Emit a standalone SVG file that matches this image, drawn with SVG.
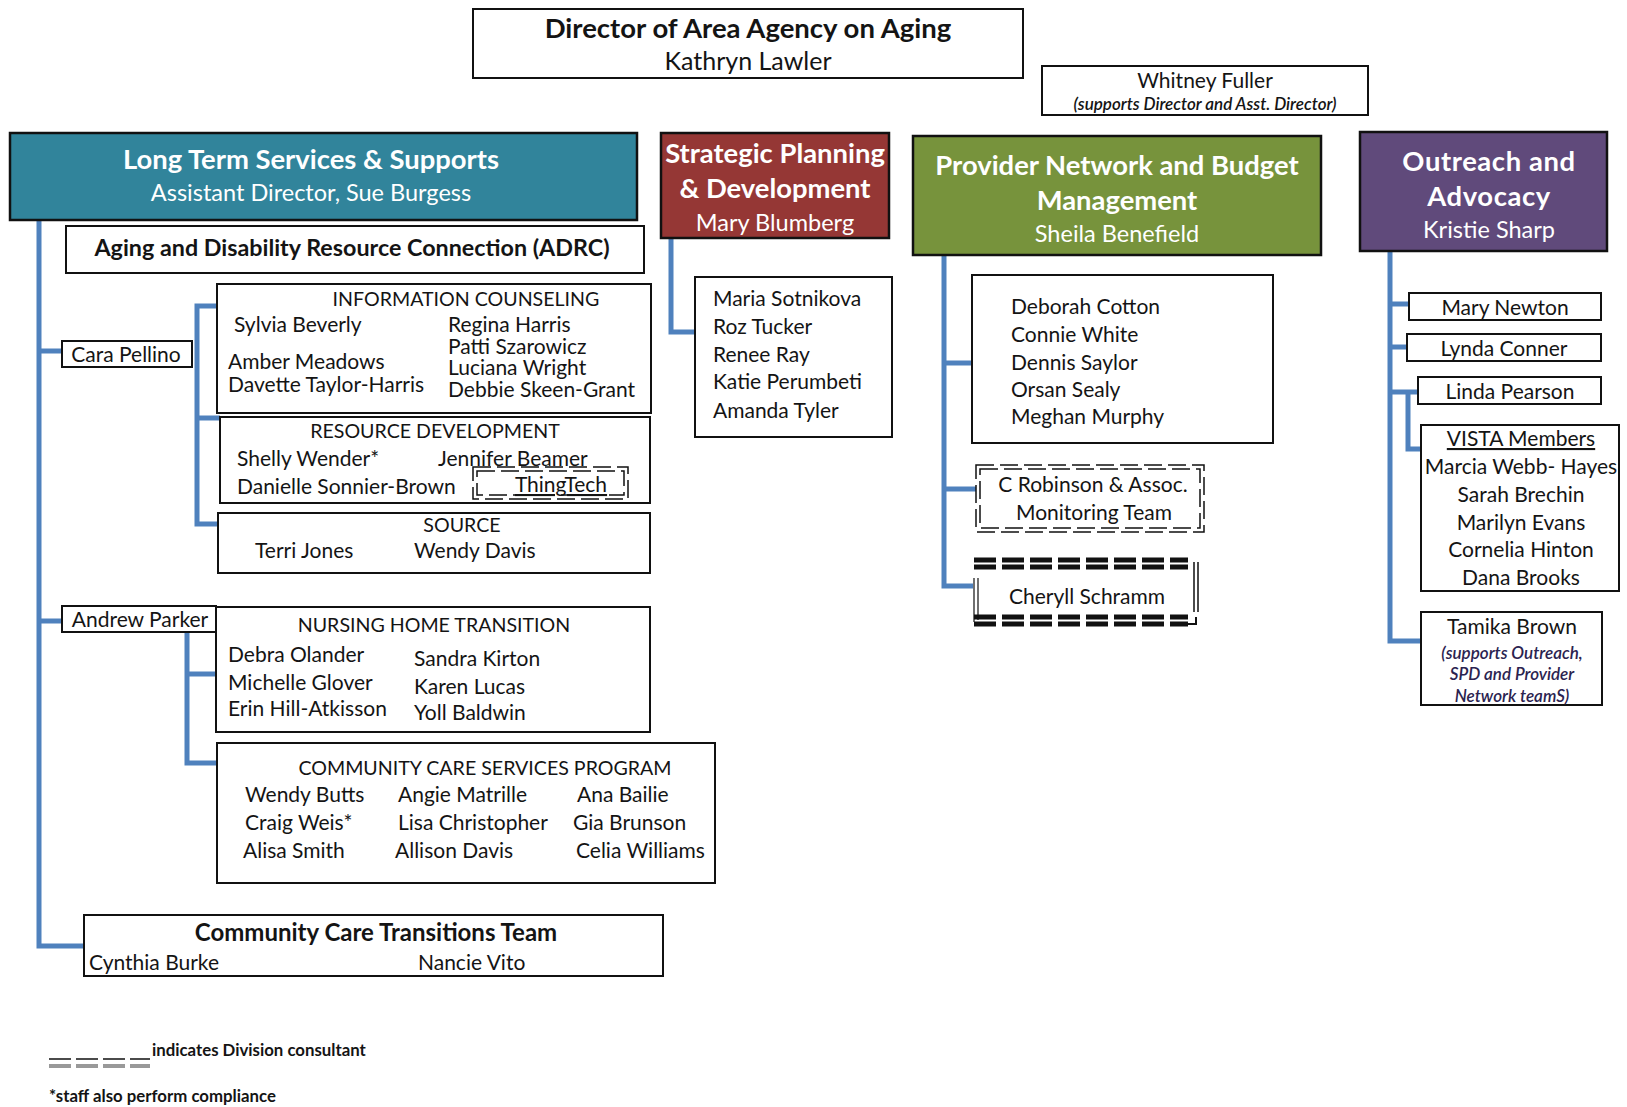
<svg xmlns="http://www.w3.org/2000/svg" width="1627" height="1107" viewBox="0 0 1627 1107">
  <style>
    text { font-family: Lato, "Open Sans", "Liberation Sans", sans-serif; fill: #141414; }
    .box { fill: #fff; stroke: #111; stroke-width: 2; }
    .hdr { stroke: #111; stroke-width: 2.5; }
    .ht { fill: #fff; font-weight: bold; font-size: 27.4px; text-anchor: middle; }
    .hs { fill: #fff; font-size: 23.5px; text-anchor: middle; }
    .nm { font-size: 21px; }
    .c { text-anchor: middle; }
    .cap { font-size: 19.6px; text-anchor: middle; }
    .it { font-style: italic; font-weight: 600; font-size: 17px; text-anchor: middle; fill: #2b2350; }
    .wire { fill: none; stroke: #4F81BD; stroke-width: 5; }
    .dash { fill: none; stroke: #111; stroke-width: 1.5; stroke-dasharray: 18 6; }
    .thick { fill: none; stroke: #111; stroke-width: 5; stroke-dasharray: 22 6; }
  </style>

  <!-- connectors -->
  <g id="connectors">
    <!-- LTSS trunk -->
    <path class="wire" d="M39 220 V946 H84"/>
    <path class="wire" d="M39 351 H62"/>
    <path class="wire" d="M39 621 H62"/>
    <!-- Cara Pellino bracket -->
    <path class="wire" d="M219 306 H197 V524 H219"/>
    <path class="wire" d="M197 418 H220"/>
    <!-- Andrew Parker bracket -->
    <path class="wire" d="M187 632 V763 H217"/>
    <path class="wire" d="M187 674 H216"/>
    <!-- Strategic Planning -->
    <path class="wire" d="M671 238 V332 H695"/>
    <!-- Provider Network -->
    <path class="wire" d="M944 255 V586 H973"/>
    <path class="wire" d="M944 363 H972"/>
    <path class="wire" d="M944 489 H976"/>
    <!-- Outreach -->
    <path class="wire" d="M1390 251 V641 H1421"/>
    <path class="wire" d="M1390 304 H1409"/>
    <path class="wire" d="M1390 347 H1407"/>
    <path class="wire" d="M1390 392 H1418"/>
    <path class="wire" d="M1408 392 V449 H1421"/>
  </g>

  <!-- director -->
  <g id="director">
    <rect class="box" x="473" y="9" width="550" height="69"/>
    <text x="748" y="38" font-size="27.5" font-weight="bold" text-anchor="middle">Director of Area Agency on Aging</text>
    <text x="748" y="70" font-size="25" text-anchor="middle">Kathryn Lawler</text>
  </g>

  <g id="whitney-fuller">
    <rect class="box" x="1042" y="66" width="326" height="49"/>
    <text x="1205" y="88" font-size="21" text-anchor="middle">Whitney Fuller</text>
    <text x="1205" y="110" font-size="17" font-style="italic" font-weight="600" text-anchor="middle">(supports Director and Asst. Director)</text>
  </g>

  <!-- department headers -->
  <g id="ltss">
    <rect class="hdr" x="10" y="133" width="627" height="87" fill="#31849B"/>
    <text class="ht" x="311" y="169">Long Term Services &amp; Supports</text>
    <text class="hs" x="311" y="201">Assistant Director, Sue Burgess</text>
  </g>

  <g id="strategic-planning">
    <rect class="hdr" x="661" y="133" width="228" height="105" fill="#953735"/>
    <text class="ht" x="775" y="163">Strategic Planning</text>
    <text class="ht" x="775" y="198">&amp; Development</text>
    <text class="hs" x="775" y="231">Mary Blumberg</text>
  </g>

  <g id="provider-network">
    <rect class="hdr" x="913" y="136" width="408" height="119" fill="#77933C"/>
    <text class="ht" x="1117" y="175">Provider Network and Budget</text>
    <text class="ht" x="1117" y="210">Management</text>
    <text class="hs" x="1117" y="242">Sheila Benefield</text>
  </g>

  <g id="outreach">
    <rect class="hdr" x="1360" y="132" width="247" height="119" fill="#604A7B"/>
    <text class="ht" x="1489" y="171" letter-spacing="0.6">Outreach and</text>
    <text class="ht" x="1489" y="206" letter-spacing="0.6">Advocacy</text>
    <text class="hs" x="1489" y="238">Kristie Sharp</text>
  </g>

  <!-- LTSS units -->
  <g id="adrc">
    <rect class="box" x="66" y="226" width="578" height="47"/>
    <text x="352" y="256" font-size="23.3" font-weight="bold" text-anchor="middle">Aging and Disability Resource Connection (ADRC)</text>
  </g>

  <g id="cara-pellino">
    <rect class="box" x="62" y="341" width="130" height="26"/>
    <text class="nm c" x="126" y="362">Cara Pellino</text>
  </g>

  <g id="information-counseling">
    <rect class="box" x="217" y="284" width="434" height="129"/>
    <text class="cap" x="466" y="306">INFORMATION COUNSELING</text>
    <text class="nm" x="234" y="332">Sylvia Beverly</text>
    <text class="nm" x="228" y="369">Amber Meadows</text>
    <text class="nm" x="228" y="392">Davette Taylor-Harris</text>
    <text class="nm" x="448" y="332">Regina Harris</text>
    <text class="nm" x="448" y="354">Patti Szarowicz</text>
    <text class="nm" x="448" y="375">Luciana Wright</text>
    <text class="nm" x="448" y="397">Debbie Skeen-Grant</text>
  </g>

  <g id="resource-development">
    <rect class="box" x="220" y="417" width="430" height="86"/>
    <text class="cap" x="435" y="438">RESOURCE DEVELOPMENT</text>
    <text class="nm" x="237" y="466">Shelly Wender*</text>
    <text class="nm" x="438" y="466">Jennifer Beamer</text>
    <text class="nm" x="237" y="494">Danielle Sonnier-Brown</text>
  </g>

  <g id="thingtech">
    <rect class="dash" x="473" y="467" width="155" height="32"/>
    <rect class="dash" x="477" y="471" width="147" height="24"/>
    <text class="nm c" x="561" y="492" text-decoration="underline">ThingTech</text>
  </g>

  <g id="source">
    <rect class="box" x="218" y="513" width="432" height="60"/>
    <text class="cap" x="462" y="532">SOURCE</text>
    <text class="nm" x="255" y="558">Terri Jones</text>
    <text class="nm" x="414" y="558">Wendy Davis</text>
  </g>

  <g id="andrew-parker">
    <rect class="box" x="62" y="606" width="154" height="26"/>
    <text class="nm c" x="140" y="627">Andrew Parker</text>
  </g>

  <g id="nursing-home-transition">
    <rect class="box" x="216" y="607" width="434" height="125"/>
    <text class="cap" x="434" y="632">NURSING HOME TRANSITION</text>
    <text class="nm" x="228" y="662">Debra Olander</text>
    <text class="nm" x="228" y="690">Michelle Glover</text>
    <text class="nm" x="228" y="716">Erin Hill-Atkisson</text>
    <text class="nm" x="414" y="666">Sandra Kirton</text>
    <text class="nm" x="414" y="694">Karen Lucas</text>
    <text class="nm" x="414" y="720">Yoll Baldwin</text>
  </g>

  <g id="community-care-services">
    <rect class="box" x="217" y="743" width="498" height="140"/>
    <text class="cap" x="485" y="775">COMMUNITY CARE SERVICES PROGRAM</text>
    <text class="nm" x="245" y="802">Wendy Butts</text>
    <text class="nm" x="245" y="830">Craig Weis*</text>
    <text class="nm" x="243" y="858">Alisa Smith</text>
    <text class="nm" x="398" y="802">Angie Matrille</text>
    <text class="nm" x="398" y="830">Lisa Christopher</text>
    <text class="nm" x="395" y="858">Allison Davis</text>
    <text class="nm" x="577" y="802">Ana Bailie</text>
    <text class="nm" x="573" y="830">Gia Brunson</text>
    <text class="nm" x="576" y="858">Celia Williams</text>
  </g>

  <g id="community-care-transitions">
    <rect class="box" x="84" y="915" width="579" height="61"/>
    <text x="376" y="941" font-size="24" font-weight="bold" text-anchor="middle">Community Care Transitions Team</text>
    <text class="nm" x="89" y="970" font-size="22">Cynthia Burke</text>
    <text class="nm" x="418" y="970" font-size="22">Nancie Vito</text>
  </g>

  <!-- Strategic Planning staff -->
  <g id="spd-staff">
    <rect class="box" x="695" y="277" width="197" height="160"/>
    <text class="nm" x="713" y="306">Maria Sotnikova</text>
    <text class="nm" x="713" y="334">Roz Tucker</text>
    <text class="nm" x="713" y="362">Renee Ray</text>
    <text class="nm" x="713" y="389">Katie Perumbeti</text>
    <text class="nm" x="713" y="418">Amanda Tyler</text>
  </g>

  <!-- Provider Network staff -->
  <g id="provider-staff">
    <rect class="box" x="972" y="275" width="301" height="168"/>
    <text class="nm" x="1011" y="314">Deborah Cotton</text>
    <text class="nm" x="1011" y="342">Connie White</text>
    <text class="nm" x="1011" y="370">Dennis Saylor</text>
    <text class="nm" x="1011" y="397">Orsan Sealy</text>
    <text class="nm" x="1011" y="424">Meghan Murphy</text>
  </g>

  <g id="c-robinson">
    <rect class="dash" x="976" y="465" width="228" height="67"/>
    <rect class="dash" x="980" y="469" width="220" height="59"/>
    <text class="nm c" x="1093" y="492">C Robinson &amp; Assoc.</text>
    <text class="nm c" x="1094" y="520">Monitoring Team</text>
  </g>

  <g id="cheryll-schramm">
    <line class="thick" x1="974" y1="560" x2="1188" y2="560"/>
    <line class="thick" x1="974" y1="567" x2="1188" y2="567"/>
    <line class="thick" x1="974" y1="617" x2="1188" y2="617"/>
    <line class="thick" x1="974" y1="624" x2="1188" y2="624"/>
    <path d="M974 578 V622 M978 578 V620" fill="none" stroke="#111" stroke-width="1.2"/>
    <path d="M1194 562 V612 M1198 562 V612" fill="none" stroke="#111" stroke-width="1.5"/>
    <path d="M1196 617 V624 H1188" fill="none" stroke="#111" stroke-width="2"/>
    <text class="nm c" x="1087" y="604">Cheryll Schramm</text>
  </g>

  <!-- Outreach staff -->
  <g id="mary-newton">
    <rect class="box" x="1409" y="293" width="192" height="27"/>
    <text class="nm c" x="1505" y="315">Mary Newton</text>
  </g>
  <g id="lynda-conner">
    <rect class="box" x="1407" y="334" width="194" height="27"/>
    <text class="nm c" x="1504" y="356">Lynda Conner</text>
  </g>
  <g id="linda-pearson">
    <rect class="box" x="1418" y="377" width="183" height="27"/>
    <text class="nm c" x="1510" y="399">Linda Pearson</text>
  </g>
  <g id="vista-members">
    <rect class="box" x="1421" y="425" width="198" height="166"/>
    <text class="nm c" x="1521" y="446" text-decoration="underline">VISTA Members</text>
    <text class="nm c" x="1521" y="474">Marcia Webb- Hayes</text>
    <text class="nm c" x="1521" y="502">Sarah Brechin</text>
    <text class="nm c" x="1521" y="530">Marilyn Evans</text>
    <text class="nm c" x="1521" y="557">Cornelia Hinton</text>
    <text class="nm c" x="1521" y="585">Dana Brooks</text>
  </g>
  <g id="tamika-brown">
    <rect class="box" x="1421" y="612" width="181" height="93"/>
    <text class="nm c" x="1512" y="634">Tamika Brown</text>
    <text class="it" x="1512" y="659">(supports Outreach,</text>
    <text class="it" x="1512" y="680">SPD and Provider</text>
    <text class="it" x="1512" y="702">Network teamS)</text>
  </g>

  <!-- key -->
  <g id="legend">
    <line x1="49" y1="1059" x2="150" y2="1059" stroke="#111" stroke-width="1.5" stroke-dasharray="22 5"/>
    <line x1="49" y1="1066" x2="150" y2="1066" stroke="#999" stroke-width="4" stroke-dasharray="22 5"/>
    <text x="152" y="1056" font-size="16.8" font-weight="bold">indicates Division consultant</text>
    <text x="49" y="1102" font-size="16.8" font-weight="bold">*staff also perform compliance</text>
  </g>
</svg>
